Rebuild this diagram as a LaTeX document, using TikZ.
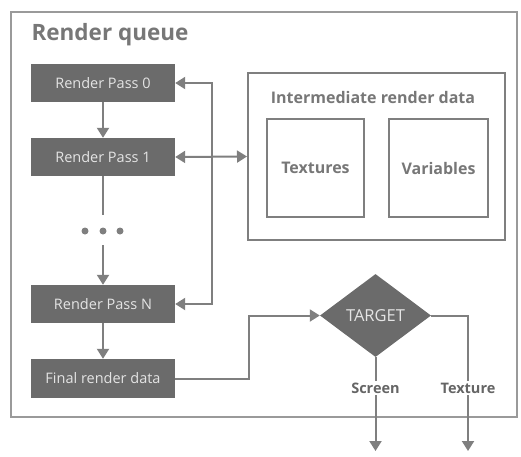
\documentclass[tikz,border=0pt]{standalone}
\usepackage{fontspec}
\setmainfont{Open Sans}
\usetikzlibrary{arrows.meta,shapes.geometric}
\definecolor{boxfill}{HTML}{6B6B6B}
\definecolor{boxtext}{HTML}{E4E4E4}
\definecolor{linecol}{HTML}{7F7F7F}
\definecolor{frame}{HTML}{9A9A9A}
\definecolor{labtext}{HTML}{777777}
\tikzset{
  passbox/.style={fill=boxfill, text=boxtext, minimum width=144pt, minimum height=38pt, inner sep=0pt, font=\fontsize{14.5}{17}\selectfont},
  conn/.style={draw=linecol, line width=2pt},
  tip/.tip={Triangle[width=12pt,length=10pt]},
  lab/.style={text=labtext, font=\bfseries\fontsize{16}{19}\selectfont},
  dotstyle/.style={circle, fill=linecol, minimum size=7pt, inner sep=0pt},
  subbox/.style={draw=linecol, line width=1.5pt, minimum height=98pt, inner sep=0pt, text=labtext, font=\bfseries\fontsize{16}{19}\selectfont},
  outlab/.style={fill=white, inner sep=2pt, text=labtext!85!black, font=\bfseries\fontsize{14.5}{17}\selectfont},
}
\begin{document}
\begin{tikzpicture}[x=1pt,y=-1pt]
\useasboundingbox (0,0) rectangle (521,456);
% outer frame
\node[draw=frame, line width=2pt, minimum width=506pt, minimum height=405pt, inner sep=0pt] (frame) at (264,214.5) {};
\node[anchor=west, text=labtext, font=\bfseries\fontsize{22.5}{26}\selectfont] (title) at (28,35) {Render queue};
% passes
\node[passbox] (rp0) at (103,83) {Render Pass 0};
\node[passbox] (rp1) at (103,157) {Render Pass 1};
\node[passbox] (rpN) at (103,304) {Render Pass N};
\node[passbox, minimum height=39pt] (final) at (103,378.5) {Final render data};
\node[dotstyle] (d1) at (85,231) {};
\node[dotstyle] (d2) at (103,231) {};
\node[dotstyle] (d3) at (120,231) {};
\coordinate (dtop) at (103,215);
\coordinate (dbot) at (103,245);
% intermediate
\node[draw=linecol, line width=2pt, minimum width=257pt, minimum height=167pt, inner sep=0pt] (inter) at (376.5,156.5) {};
\node[lab] (intertitle) at (373,97) {Intermediate render data};
\node[subbox, minimum width=97pt] (tex) at (315.5,168) {Textures};
\node[subbox, minimum width=99pt] (var) at (438.5,168) {Variables};
% target
\node[diamond, fill=boxfill, text=boxtext, minimum width=111pt, minimum height=83pt, inner sep=0pt, font=\fontsize{16.5}{19}\selectfont] (target) at (375.5,315.5) {TARGET};
% connectors
\draw[conn, -tip] (rp0) -- (rp1);
\draw[conn] (rp1) -- (dtop);
\draw[conn, -tip] (dbot) -- (rpN);
\draw[conn, -tip] (rpN) -- (final);
\draw[conn, tip-tip] (rp1.east) -- (inter.west);
\coordinate (loop) at (212,83);
\draw[conn, tip-tip] (rp0.east) -- (loop) |- (rpN.east);
\coordinate (turn) at (249,378.5);
\draw[conn, -tip] (final.east) -- (turn) |- (target.west);
\coordinate (scrend) at (375.5,451);
\coordinate (texend) at (468,451);
\draw[conn, -tip] (target.south) -- (scrend);
\draw[conn, -tip] (target.east) -| (texend);
\node[outlab] (scr) at (375.5,388) {Screen};
\node[outlab] (texl) at (468,388) {Texture};
\end{tikzpicture}
\end{document}
